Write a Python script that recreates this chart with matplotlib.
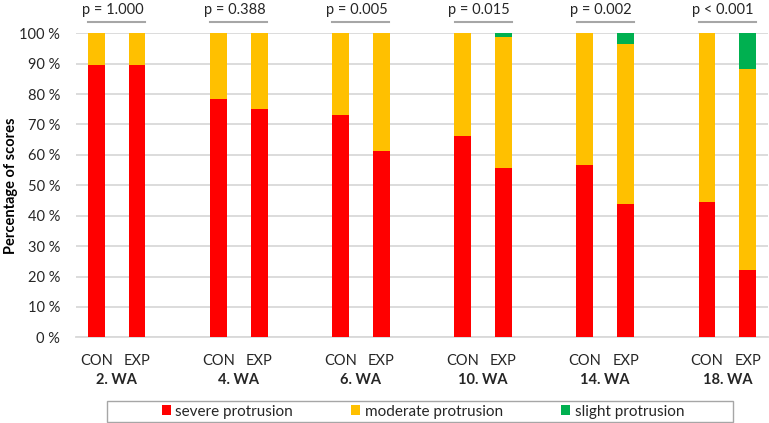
import matplotlib
matplotlib.use('Agg')
import matplotlib.pyplot as plt
from matplotlib.patches import Patch, Rectangle
import matplotlib.transforms as mtransforms

weeks = ['2. WA', '4. WA', '6. WA', '10. WA', '14. WA', '18. WA']
groups = ['CON', 'EXP']
p_values = ['p = 1.000', 'p = 0.388', 'p = 0.005', 'p = 0.015', 'p = 0.002', 'p < 0.001']

severe_con = [89.6, 78.3, 73.2, 66.2, 56.6, 44.5]
moderate_con = [10.4, 21.7, 26.8, 33.8, 43.4, 55.5]
slight_con = [0.0, 0.0, 0.0, 0.0, 0.0, 0.0]

severe_exp = [89.6, 75.0, 61.2, 55.8, 43.8, 22.0]
moderate_exp = [10.4, 25.0, 38.8, 42.9, 52.7, 66.3]
slight_exp = [0.0, 0.0, 0.0, 1.3, 3.5, 11.7]

series_names = ['severe protrusion', 'moderate protrusion', 'slight protrusion']
colors = ['#FF0000', '#FFC000', '#00B050']

plt.rcParams['font.family'] = ['Lato', 'DejaVu Sans']
FS = 10.5

W, H = 769, 423
fig = plt.figure(figsize=(W / 100, H / 100), dpi=100)
ax = fig.add_axes([76 / W, (H - 337.3) / H, 692 / W, 304 / H])

con_x = [3 * i for i in range(len(weeks))]
exp_x = [3 * i + 1 for i in range(len(weeks))]
bw = 0.41

for xs, sev, mod, sli in [(con_x, severe_con, moderate_con, slight_con),
                          (exp_x, severe_exp, moderate_exp, slight_exp)]:
    ax.bar(xs, sev, width=bw, color=colors[0], zorder=3)
    ax.bar(xs, mod, width=bw, bottom=sev, color=colors[1], zorder=3)
    bottoms = [a + b for a, b in zip(sev, mod)]
    ax.bar(xs, sli, width=bw, bottom=bottoms, color=colors[2], zorder=3)

ax.set_xlim(-0.5, 3 * len(weeks) - 1.5)
ax.set_ylim(0, 100)
ax.set_yticks(range(0, 101, 10))
ax.set_yticklabels([f'{v} %' for v in range(0, 101, 10)], fontsize=FS, color='#262626')
ax.yaxis.grid(True, color='#D9D9D9', linewidth=1.3, zorder=0)
ax.set_axisbelow(True)
for s in ['top', 'right', 'left']:
    ax.spines[s].set_visible(False)
ax.spines['bottom'].set_color('#D9D9D9')
ax.spines['bottom'].set_linewidth(1.3)
ax.tick_params(axis='both', length=0)
ax.tick_params(axis='y', pad=11.5)

xt = []
xl = []
for i in range(len(weeks)):
    xt += [con_x[i], exp_x[i]]
    xl += groups
ax.set_xticks(xt)
ax.set_xticklabels(xl, fontsize=FS, color='#262626')
ax.tick_params(axis='x', pad=12)

trans = mtransforms.blended_transform_factory(ax.transData, ax.transAxes)
for i, w in enumerate(weeks):
    c = (con_x[i] + exp_x[i]) / 2
    ax.text(c, -0.142, w, transform=trans, ha='center', va='center',
            fontsize=FS, fontweight='bold', color='#262626')
    ax.plot([c - 0.7, c + 0.7], [1.038, 1.038], transform=trans, color='#A6A6A6',
            linewidth=1.5, clip_on=False)
    ax.text(c - 0.1, 1.078, p_values[i], transform=trans, ha='center', va='center',
            fontsize=FS, color='#262626')

ax.set_ylabel('Percentage of scores', fontsize=FS, fontweight='bold', color='#000000')
ax.yaxis.set_label_coords(-0.084, 0.5)

# legend box
fig.patches.append(Rectangle((107 / W, 1 / H), 626 / W, 21 / H, transform=fig.transFigure,
                             fill=False, edgecolor='#A6A6A6', linewidth=1.0))
handles = [Patch(facecolor=c, edgecolor='none') for c in colors]
fig.legend(handles, series_names, loc='center', bbox_to_anchor=(423 / W, 11.5 / H),
           ncol=3, frameon=False, fontsize=11, handlelength=0.6, handleheight=0.6,
           handletextpad=0.3, columnspacing=3.8, labelcolor='#262626')

fig.savefig('out.png', dpi=100)
